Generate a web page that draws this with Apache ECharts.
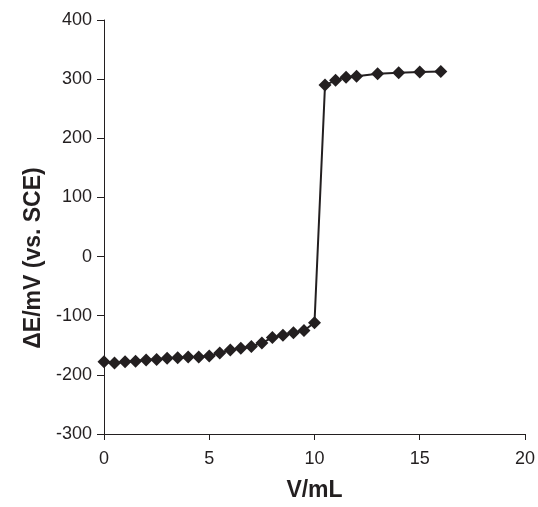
<!DOCTYPE html>
<html><head><meta charset="utf-8">
<script src="https://cdn.jsdelivr.net/npm/echarts@6/dist/echarts.min.js"></script>
<style>html,body{margin:0;padding:0;background:#fff}#c{width:538px;height:507px}</style>
</head><body><div id="c"></div>
<script>
const volumes = [0,0.5,1,1.5,2,2.5,3,3.5,4,4.5,5,5.5,6,6.5,7,7.5,8,8.5,9,9.5,10,10.5,11,11.5,12,13,14,15,16];
const potentials = [-178,-180,-178,-177,-175,-174,-172,-171,-170,-170,-168,-163,-158,-155,-152,-146,-137,-133,-129,-125,-112,290,298,303,305,309,311,312,313];
const xTicks = [0,20,5];
const yTicks = [-300,400,100];
const chart = echarts.init(document.getElementById('c'));
const font = 'Liberation Sans, Arial, sans-serif';
chart.setOption({
  animation:false,
  grid:{left:104,right:13,top:20,bottom:69,containLabel:false},
  xAxis:{type:'value',min:xTicks[0],max:xTicks[1],interval:xTicks[2],
    name:'V/mL',nameLocation:'middle',nameGap:45,
    nameTextStyle:{fontFamily:font,fontSize:23,fontWeight:'bold',color:'#231f20'},
    axisLine:{onZero:false,lineStyle:{color:'#231f20',width:1}},
    axisTick:{show:true,length:6,lineStyle:{color:'#231f20'}},
    axisLabel:{fontFamily:font,fontSize:18,color:'#231f20',margin:16},
    splitLine:{show:false}},
  yAxis:{type:'value',min:yTicks[0],max:yTicks[1],interval:yTicks[2],
    name:'\u0394E/mV (vs. SCE)',nameLocation:'middle',nameGap:52,nameRotate:90,
    nameTextStyle:{fontFamily:font,fontSize:23,fontWeight:'bold',color:'#231f20',padding:[0,62,0,0]},
    axisLine:{show:true,onZero:false,lineStyle:{color:'#231f20',width:1}},
    axisTick:{show:true,length:7,lineStyle:{color:'#231f20'}},
    axisLabel:{fontFamily:font,fontSize:18,color:'#231f20',margin:12},
    splitLine:{show:false}},
  series:[{type:'line',data:volumes.map((v,i)=>[v,potentials[i]]),
    symbol:'diamond',symbolSize:13,
    lineStyle:{color:'#231f20',width:2},
    itemStyle:{color:'#231f20'}}]
});
</script></body></html>
